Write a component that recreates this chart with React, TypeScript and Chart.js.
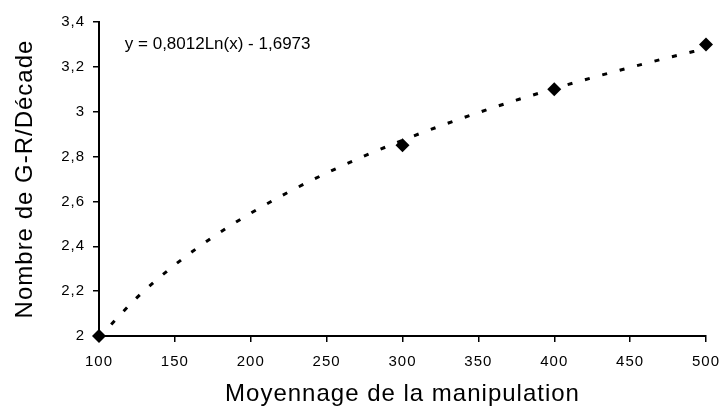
import React, { useEffect, useRef } from "react";
import { Chart, registerables } from "chart.js";

Chart.register(...registerables);

const xValues = [100, 300, 400, 500];
const yValues = [2, 2.85, 3.1, 3.3];

const trendX = [100, 125, 150, 175, 200, 225, 250, 275, 300, 325, 350, 375, 400, 425, 450, 475, 500];
const trendY = [1.9924, 2.1711, 2.3172, 2.4407, 2.5477, 2.6421, 2.7265, 2.8029, 2.8726, 2.9367, 2.9961, 3.0514, 3.1031, 3.1516, 3.1974, 3.2407, 3.2818];

const equationText = "y = 0,8012Ln(x) - 1,6973";
const equationAt = { x: 117, y: 3.3 };

const xTitle = "Moyennage de la manipulation";
const yTitle = "Nombre de G-R/Décade";

const FONT = "'Liberation Sans', Arial, sans-serif";

const spacingPlugin = {
  id: "spacing",
  beforeUpdate(chart: any) {
    (chart.ctx as any).letterSpacing = "1px";
  },
  beforeLayout(chart: any) {
    (chart.ctx as any).letterSpacing = "1px";
  },
  beforeDraw(chart: any) {
    (chart.ctx as any).letterSpacing = "1px";
  },
};

const equationPlugin = {
  id: "equation",
  afterDatasetsDraw(chart: any) {
    const ctx = chart.ctx;
    const xs = chart.scales.x;
    const ys = chart.scales.y;
    ctx.save();
    (ctx as any).letterSpacing = "0px";
    ctx.font = `17px ${FONT}`;
    ctx.fillStyle = "#000";
    ctx.textAlign = "left";
    ctx.textBaseline = "middle";
    ctx.fillText(equationText, xs.getPixelForValue(equationAt.x), ys.getPixelForValue(equationAt.y));
    ctx.restore();
  },
};

function fmt(v: number): string {
  const r = Math.round(v * 10) / 10;
  return String(r).replace(".", ",");
}

export default function App() {
  const ref = useRef<HTMLCanvasElement>(null);

  useEffect(() => {
    if (!ref.current) return;
    Chart.defaults.font.family = FONT;
    Chart.defaults.color = "#000";
    const chart = new Chart(ref.current, {
      type: "scatter",
      data: {
        datasets: [
          {
            label: "points",
            data: xValues.map((x, i) => ({ x, y: yValues[i] })),
            pointStyle: "rectRot",
            pointRadius: 7,
            pointBackgroundColor: "#000",
            pointBorderColor: "#000",
            pointBorderWidth: 0,
            showLine: false,
            clip: false,
          },
          {
            label: "trend",
            data: trendX.map((x, i) => ({ x, y: trendY[i] })),
            showLine: true,
            pointRadius: 0,
            borderColor: "#000",
            borderWidth: 3,
            borderDash: [5, 13],
            cubicInterpolationMode: "monotone",
            clip: false,
          },
        ],
      },
      options: {
        animation: false,
        responsive: false,
        layout: { padding: { top: 22, right: 0, left: 0, bottom: 0 } },
        plugins: { legend: { display: false }, tooltip: { enabled: false } },
        scales: {
          x: {
            type: "linear",
            min: 100,
            max: 500,
            afterFit: (s: any) => {
              s.height = 74;
              s.paddingLeft = 0;
              s.paddingRight = 15;
            },
            ticks: { stepSize: 50, font: { size: 15 }, color: "#000", padding: 11 },
            grid: { display: true, drawOnChartArea: false, drawTicks: true, tickLength: 6, color: "#000", lineWidth: 1.5 },
            border: { display: true, color: "#000", width: 2 },
            title: { display: true, text: xTitle, font: { size: 24 }, color: "#000", padding: { top: 0, bottom: 1 } },
          },
          y: {
            type: "linear",
            min: 2,
            max: 3.4,
            afterFit: (s: any) => {
              s.width = 99;
              s.paddingTop = 0;
              s.paddingBottom = 0;
            },
            ticks: { stepSize: 0.2, font: { size: 15 }, color: "#000", padding: 8, callback: (v: any) => fmt(Number(v)) },
            grid: { display: true, drawOnChartArea: false, drawTicks: true, tickLength: 6, color: "#000", lineWidth: 1.5 },
            border: { display: true, color: "#000", width: 2 },
            title: { display: true, text: yTitle, font: { size: 24 }, color: "#000", padding: { top: 11, bottom: 0 } },
          },
        },
      },
      plugins: [spacingPlugin, equationPlugin],
    } as any);
    return () => chart.destroy();
  }, []);

  return (
    <div style={{ position: "fixed", left: 0, top: 0, width: 721, height: 410, background: "#fff" }}>
      <canvas ref={ref} width={721} height={410} style={{ display: "block" }} />
    </div>
  );
}
